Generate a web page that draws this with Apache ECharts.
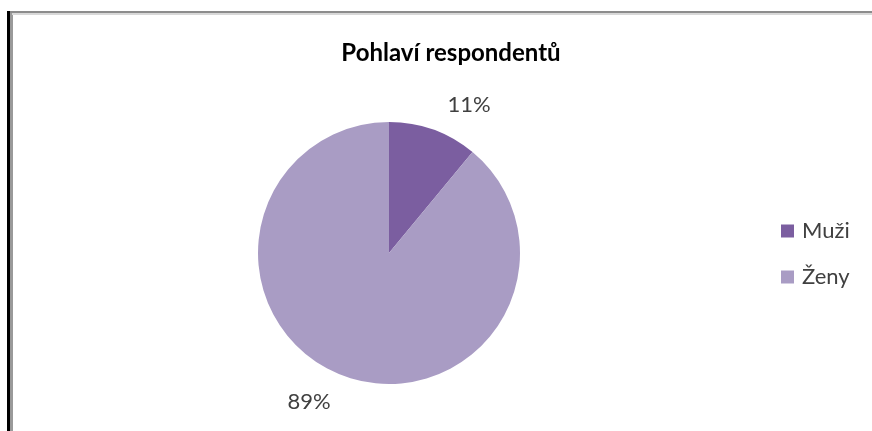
<!DOCTYPE html>
<html>
<head>
<meta charset="utf-8">
<style>
  html, body { margin: 0; padding: 0; background: #ffffff; }
  #chart { width: 872px; height: 431px; }
</style>
<script src="https://cdn.jsdelivr.net/npm/echarts@6/dist/echarts.min.js"></script>
</head>
<body>
<div id="chart"></div>
<script>
// Gender of respondents
const titleText = 'Pohlaví respondentů';
const categories = ['Muži', 'Ženy'];
const shares = [11, 89];
const colors = ['#7b5ea0', '#a99cc4'];

const chart = echarts.init(document.getElementById('chart'));

chart.setOption({
  backgroundColor: '#ffffff',
  animation: false,
  title: {
    text: titleText,
    left: 446,
    top: 36,
    textAlign: 'center',
    textStyle: {
      fontFamily: 'Lato, "Open Sans", sans-serif',
      fontWeight: 'bold',
      fontSize: 24,
      color: '#000000'
    }
  },
  legend: {
    orient: 'vertical',
    left: 776,
    top: 215,
    itemWidth: 13,
    itemHeight: 13,
    itemGap: 24,
    icon: 'rect',
    data: categories,
    textStyle: {
      fontFamily: 'Lato, "Open Sans", sans-serif',
      fontSize: 22,
      color: '#404040',
      padding: [0, 0, 0, 3]
    }
  },
  graphic: [
    { type: 'rect', shape: { x: 7, y: 11, width: 3, height: 420 }, style: { fill: '#000000' }, silent: true },
    { type: 'rect', shape: { x: 10, y: 11, width: 3, height: 420 }, style: { fill: '#9a9a9a' }, silent: true },
    { type: 'rect', shape: { x: 10, y: 11, width: 862, height: 2 }, style: { fill: '#8c8c8c' }, silent: true },
    { type: 'rect', shape: { x: 12, y: 13, width: 860, height: 2 }, style: { fill: '#d8d8d8' }, silent: true }
  ],
  series: [{
    type: 'pie',
    center: [389, 253],
    radius: 131,
    startAngle: 90,
    clockwise: true,
    color: colors,
    label: {
      show: true,
      position: 'outside',
      formatter: '{d}%',
      fontFamily: 'Lato, "Open Sans", sans-serif',
      fontSize: 22,
      color: '#404040'
    },
    labelLine: { show: false, length: 18, length2: 0 },
    labelLayout: function (params) {
      return params.dataIndex === 0 ? { dx: 3, dy: -8 } : { dx: -3, dy: 9 };
    },
    emphasis: { disabled: true },
    data: categories.map((name, i) => ({ name: name, value: shares[i] }))
  }]
});
</script>
</body>
</html>
